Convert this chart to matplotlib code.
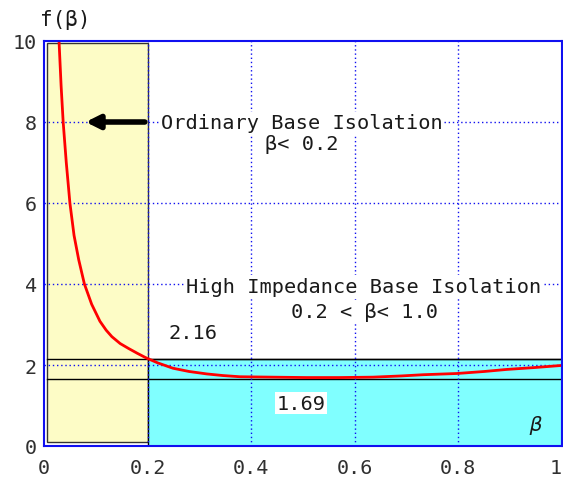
import matplotlib
matplotlib.use("Agg")
from matplotlib import pyplot as plt
from matplotlib.patches import Rectangle

# curve
beta = [0.029, 0.033, 0.037, 0.043, 0.050, 0.058, 0.067, 0.078, 0.092, 0.108,
        0.120, 0.131, 0.147, 0.163, 0.180, 0.195, 0.200, 0.220, 0.249, 0.280,
        0.314, 0.345, 0.378, 0.440, 0.507, 0.570, 0.635, 0.690, 0.732, 0.797,
        0.850, 0.893, 0.950, 1.000]
f_beta = [10.0, 8.9, 8.0, 7.0, 6.0, 5.2, 4.6, 4.0, 3.5, 3.08,
          2.86, 2.70, 2.53, 2.41, 2.29, 2.19, 2.16, 2.05, 1.92, 1.84,
          1.78, 1.74, 1.71, 1.70, 1.69, 1.69, 1.70, 1.73, 1.76, 1.79,
          1.84, 1.89, 1.94, 1.99]

beta_limit = 0.2
f_upper_line = 2.16
f_lower_line = 1.65
label_upper = "2.16"
label_lower = "1.69"

x_ticks = [0, 0.2, 0.4, 0.6, 0.8, 1]
x_tick_labels = ["0", "0.2", "0.4", "0.6", "0.8", "1"]
y_ticks = [0, 2, 4, 6, 8, 10]

mono = "DejaVu Sans Mono"
txt_color = "#1a1a1a"
grid_blue = "#1010f0"

fig = plt.figure(figsize=(5.63, 4.89), dpi=100)
ax = fig.add_axes([44 / 563, 1 - 447 / 489, 518 / 563, 405 / 489])
ax.set_xlim(0, 1)
ax.set_ylim(0, 10)

# shaded regions
ax.add_patch(Rectangle((0.006, 0.1), beta_limit - 0.006, 9.85, facecolor="#fdfcc6",
                       edgecolor="#333333", linewidth=1, zorder=1))
ax.add_patch(Rectangle((beta_limit, 0), 1 - beta_limit, f_upper_line, facecolor="#80ffff",
                       edgecolor="black", linewidth=1, zorder=1))
ax.plot([0.006, 1], [f_upper_line, f_upper_line], color="black", linewidth=1, zorder=2)
ax.plot([0.006, 1], [f_lower_line, f_lower_line], color="black", linewidth=1, zorder=2)

# grid on top of the shading
for x in x_ticks[1:-1]:
    ax.axvline(x, color=grid_blue, linestyle=(0, (1, 2)), linewidth=1, zorder=3)
for y in y_ticks[1:-1]:
    ax.axhline(y, color=grid_blue, linestyle=(0, (1, 2)), linewidth=1, zorder=3)

ax.plot(beta, f_beta, color="red", linewidth=2, zorder=5)

ax.annotate("", xy=(0.075, 8), xytext=(beta_limit, 8),
            arrowprops=dict(arrowstyle="-|>,head_length=0.8,head_width=0.4",
                            color="black", linewidth=4), zorder=6)

box = dict(facecolor="white", edgecolor="none", pad=1)
fs = 14.6
ax.text(0.498, 7.98, "Ordinary Base Isolation", ha="center", va="center",
        family=mono, fontsize=fs, color=txt_color, bbox=box, zorder=6)
ax.text(0.498, 7.46, "β< 0.2", ha="center", va="center",
        family=mono, fontsize=fs, color=txt_color, bbox=box, zorder=6)
ax.text(0.618, 3.95, "High Impedance Base Isolation", ha="center", va="center",
        family=mono, fontsize=fs, color=txt_color, bbox=box, zorder=6)
ax.text(0.618, 3.33, "0.2 < β< 1.0", ha="center", va="center",
        family=mono, fontsize=fs, color=txt_color, bbox=box, zorder=6)
ax.text(0.288, 2.81, label_upper, ha="center", va="center",
        family=mono, fontsize=fs, color=txt_color, zorder=6)
ax.text(0.496, 1.06, label_lower, ha="center", va="center",
        family=mono, fontsize=fs, color=txt_color, bbox=box, zorder=6)
ax.text(0.948, 0.54, "β", ha="center", va="center", style="italic",
        family=mono, fontsize=fs, color=txt_color, zorder=6)

ax.set_xticks(x_ticks)
ax.set_xticklabels(x_tick_labels)
ax.set_yticks(y_ticks)
ax.tick_params(axis="x", length=0, labelsize=14.5, colors="#303030", pad=9)
ax.tick_params(axis="y", length=0, labelsize=14.5, colors="#303030", pad=5)
for lab in ax.get_xticklabels() + ax.get_yticklabels():
    lab.set_family(mono)
ax.get_xticklabels()[-1].set_horizontalalignment("right")
for sp in ax.spines.values():
    sp.set_color(grid_blue)
    sp.set_linewidth(1.5)
    sp.set_zorder(7)

fig.text(40 / 563, 1 - 20 / 489, "f(β)", ha="left", va="center",
         family=mono, fontsize=15, color=txt_color)

fig.savefig("out.png", dpi=100)
